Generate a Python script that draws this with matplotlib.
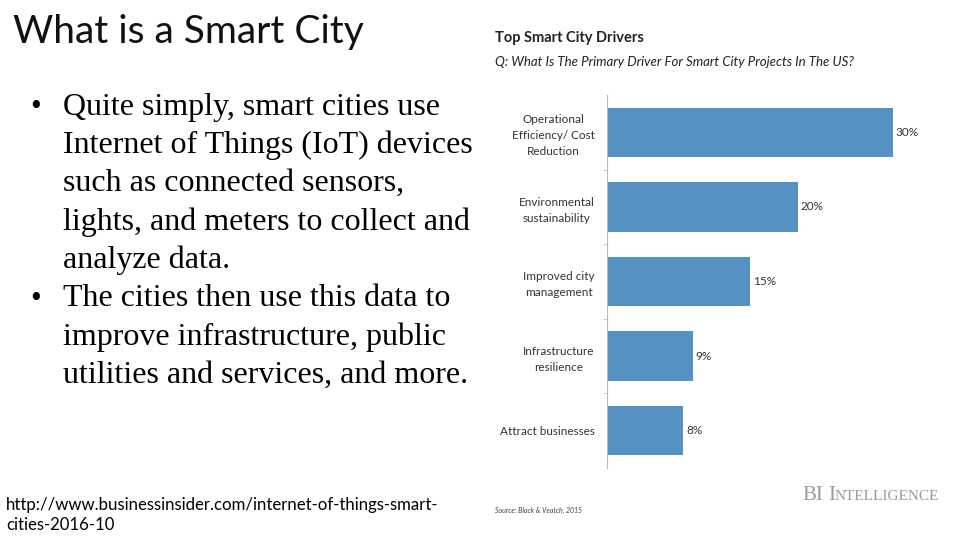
import matplotlib
matplotlib.use("Agg")
import matplotlib.pyplot as plt

# chart data
drivers = ["Operational\nEfficiency/ Cost\nReduction",
           "Environmental\nsustainability",
           "Improved city\nmanagement",
           "Infrastructure\nresilience",
           "Attract businesses"]
shares = [30, 20, 15, 9, 8]

bullet_lines = [
    ("•", "Quite simply, smart cities use"),
    ("", "Internet of Things (IoT) devices"),
    ("", "such as connected sensors,"),
    ("", "lights, and meters to collect and"),
    ("", "analyze data."),
    ("•", "The cities then use this data to"),
    ("", "improve infrastructure, public"),
    ("", "utilities and services, and more."),
]

W, H = 960, 540
fig = plt.figure(figsize=(9.6, 5.4), dpi=100)
fig.patch.set_facecolor("white")

def px(x, y):
    return x / W, 1 - y / H

# slide title
fig.text(*px(13, 32), "What is a Smart City", fontsize=28, family="Lato",
         va="center", ha="left", color="#111111")

# bullets
y0, dy = 107, 38.4
for i, (b, line) in enumerate(bullet_lines):
    y = y0 + i * dy
    if b:
        fig.text(*px(30, y), b, fontsize=22, family="Liberation Serif",
                 va="center", ha="left")
    fig.text(*px(63, y), line, fontsize=23, family="Liberation Serif",
             va="center", ha="left")

# source url
fig.text(*px(6, 505), "http://www.businessinsider.com/internet-of-things-smart-",
         fontsize=12.1, family="Lato", va="center", ha="left")
fig.text(*px(6, 525), "cities-2016-10", fontsize=12.1, family="Lato",
         va="center", ha="left")

# chart header
fig.text(*px(495, 38), "Top Smart City Drivers", fontsize=10.5, family="Lato",
         weight="bold", va="center", ha="left", color="#222222")
fig.text(*px(495, 62), "Q: What Is The Primary Driver For Smart City Projects In The US?",
         fontsize=9.5, family="Lato", style="italic", va="center", ha="left",
         color="#222222")

# bar chart
ax = fig.add_axes([607 / W, 1 - 468 / H, (893 - 607) / W, (468 - 95) / H])
pos = list(range(len(drivers)))
ax.barh(pos, shares, height=0.66, color="#5592c3")
ax.set_xlim(0, 30)
ax.set_ylim(len(drivers) - 0.5, -0.5)
for p, v in zip(pos, shares):
    ax.text(v + 0.3, p, f"{v}%", fontsize=8.5, family="Lato", va="center",
            ha="left", color="#333333", clip_on=False)
ax.set_yticks(pos)
ax.set_yticklabels(drivers, fontsize=8.5, family="Lato", color="#333333",
                   multialignment="center", linespacing=1.55)
ax.tick_params(axis="y", length=0, pad=9)
ax.set_yticks([p + 0.5 for p in pos[:-1]], minor=True)
ax.tick_params(axis="y", which="minor", length=3, color="#bbbbbb")
ax.set_xticks([])
for s in ["top", "right", "bottom"]:
    ax.spines[s].set_visible(False)
ax.spines["left"].set_color("#bbbbbb")

# footer of chart
fig.text(*px(495, 510), "Source: Black & Veatch, 2015", fontsize=5,
         family="Lato", style="italic", va="center", ha="left", color="#444444")
fig.text(*px(802, 495), "BI", fontsize=15, family="Liberation Serif",
         va="center", ha="left", color="#9a9a9a")
fig.text(*px(828, 495), "I", fontsize=15, family="Liberation Serif",
         va="center", ha="left", color="#9a9a9a")
fig.text(*px(835, 496.5), "NTELLIGENCE", fontsize=11, family="Liberation Serif",
         va="center", ha="left", color="#9a9a9a")

fig.savefig("out.png", dpi=100)
